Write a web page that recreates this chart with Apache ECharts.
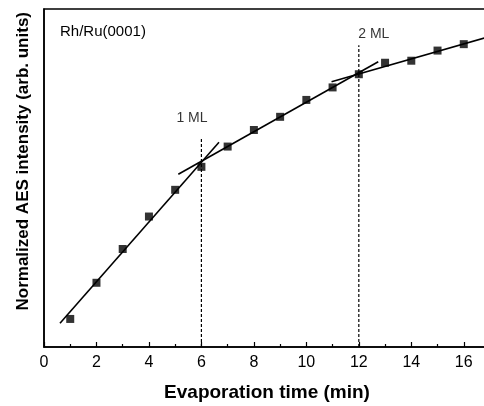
<!DOCTYPE html>
<html>
<head>
<meta charset="utf-8">
<script src="https://cdn.jsdelivr.net/npm/echarts@6/dist/echarts.min.js"></script>
<style>html,body{margin:0;padding:0;background:#fff;}#c{width:484px;height:406px;}</style>
</head>
<body>
<div id="c"></div>
<script>
var times = [1, 2, 3, 4, 5, 6, 7, 8, 9, 10, 11, 12, 13, 14, 15, 16];
var intensity = [8.3, 19.0, 29.0, 38.6, 46.5, 53.3, 59.3, 64.2, 68.1, 73.1, 76.8, 80.7, 84.1, 84.7, 87.7, 89.6];
var fit1 = [[0.61, 7.0], [6.67, 60.6]];
var fit2 = [[5.12, 51.1], [12.74, 84.4]];
var fit3 = [[10.96, 78.5], [17, 91.9]];
var mlX = [6, 12];
var mlTop = [61.8, 89.3];
var mlLabels = ['1 ML', '2 ML'];
var mlLabelPos = [[5.64, 67.8], [12.57, 92.6]];
var xTicks = [0, 2, 4, 6, 8, 10, 12, 14, 16];
var sampleName = 'Rh/Ru(0001)';
var xTitle = 'Evaporation time (min)';
var yTitle = 'Normalized AES intensity (arb. units)';

var font = 'Liberation Sans, Arial, Helvetica, sans-serif';
var chart = echarts.init(document.getElementById('c'));
var series = [];
series.push({type: 'scatter', data: times.map(function (t, i) { return [t, intensity[i]]; }),
  symbol: 'rect', symbolSize: 8, itemStyle: {color: '#000'}, z: 5, silent: true});
[fit1, fit2, fit3].forEach(function (f) {
  series.push({type: 'line', data: f, symbol: 'none', lineStyle: {color: '#000', width: 1.6}, silent: true});
});
mlX.forEach(function (x, i) {
  series.push({type: 'line', data: [[x, 0], [x, mlTop[i]]], symbol: 'none',
    lineStyle: {color: '#000', width: 1.2, type: [3, 2]}, silent: true});
});
series.push({type: 'scatter', symbolSize: 0, silent: true,
  data: mlLabelPos.map(function (p, i) { return {value: p, name: mlLabels[i]}; }),
  label: {show: true, position: 'inside', formatter: '{b}', color: '#000', textBorderWidth: 0,
    fontSize: 14, fontFamily: font}});

chart.setOption({
  animation: false,
  backgroundColor: '#fff',
  title: {text: sampleName, left: 55, top: 19, textStyle: {fontSize: 15, fontWeight: 'normal', color: '#000', fontFamily: font}},
  grid: {left: 44, top: 9, bottom: 59, width: 446, show: true, borderColor: '#000', borderWidth: 1.5,
    containLabel: false, outerBoundsMode: 'none'},
  graphic: [{type: 'text', left: 15, top: 12, rotation: Math.PI / 2,
    style: {text: yTitle, fill: '#000', font: 'bold 17px ' + font}}],
  xAxis: {type: 'value', min: 0, max: 17, interval: 2,
    axisLine: {show: true, lineStyle: {color: '#000', width: 1.5}},
    axisTick: {show: true, inside: true, length: 5, lineStyle: {color: '#000', width: 1.2}},
    minorTick: {show: true, splitNumber: 2, length: 3, lineStyle: {color: '#000', width: 1.2}},
    splitLine: {show: false},
    axisLabel: {color: '#000', fontSize: 16, margin: 8, fontFamily: font,
      formatter: function (v) { return xTicks.indexOf(v) >= 0 ? String(v) : ''; }},
    name: xTitle, nameLocation: 'middle', nameGap: 36,
    nameTextStyle: {color: '#000', fontSize: 19, fontWeight: 'bold', fontFamily: font}},
  yAxis: {type: 'value', min: 0, max: 100, show: true,
    axisLine: {show: true, lineStyle: {color: '#000', width: 1.5}},
    axisTick: {show: false}, axisLabel: {show: false}, splitLine: {show: false}},
  series: series
});
</script>
</body>
</html>
